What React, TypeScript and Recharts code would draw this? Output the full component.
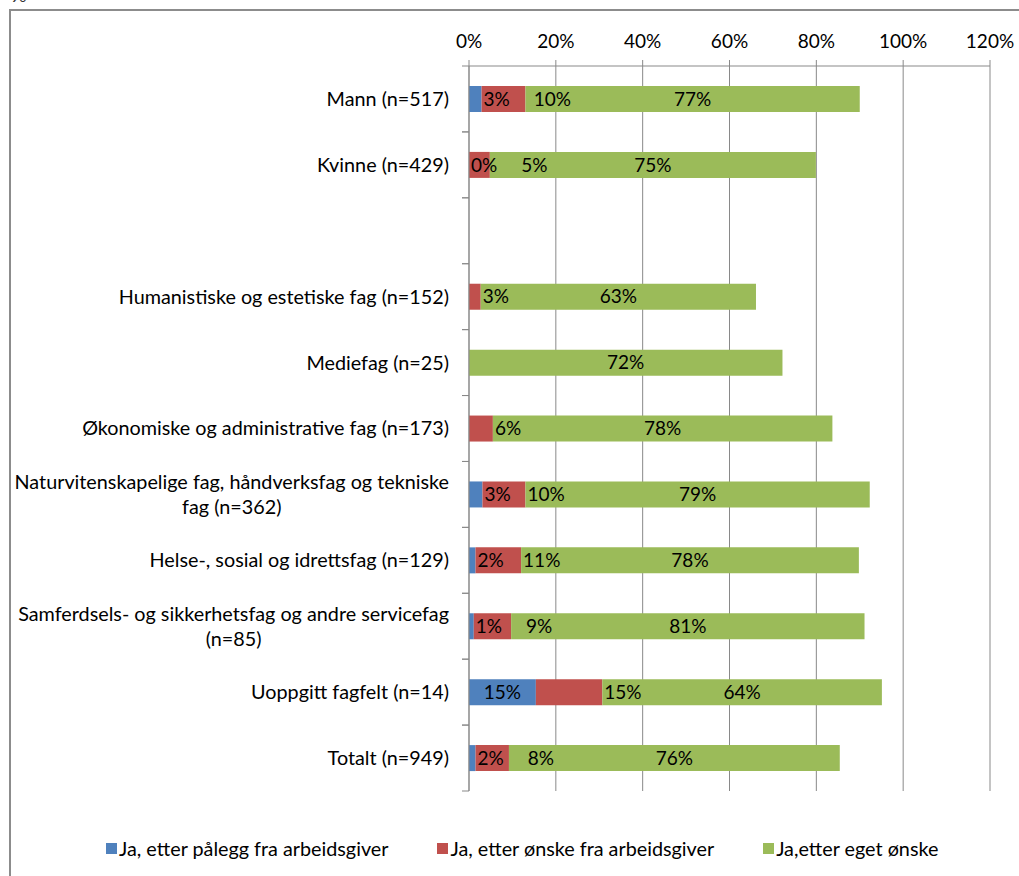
import React from 'react'
import { BarChart, Bar, XAxis, YAxis, CartesianGrid, Legend, LabelList } from 'recharts'

const categories = [
  'Mann (n=517)',
  'Kvinne (n=429)',
  '',
  'Humanistiske og estetiske fag (n=152)',
  'Mediefag (n=25)',
  'Økonomiske og administrative fag (n=173)',
  'Naturvitenskapelige fag, håndverksfag og tekniske fag (n=362)',
  'Helse-, sosial og idrettsfag (n=129)',
  'Samferdsels- og sikkerhetsfag og andre servicefag (n=85)',
  'Uoppgitt fagfelt (n=14)',
  'Totalt (n=949)',
]

// Ja, etter pålegg fra arbeidsgiver
const paalegg = [2.9, 0, null, null, null, null, 3.1, 1.5, 1.1, 15.4, 1.5]
// Ja, etter ønske fra arbeidsgiver
const oenskeArbeidsgiver = [10.1, 4.8, null, 2.7, null, 5.5, 9.9, 10.5, 8.6, 15.3, 7.7]
// Ja,etter eget ønske
const egetOenske = [77.0, 75.1, null, 63.4, 72.2, 78.2, 79.3, 77.8, 81.4, 64.4, 76.2]

const xTicks = [0, 20, 40, 60, 80, 100, 120]

const data = categories.map((name, i) => ({
  name,
  paalegg: paalegg[i],
  oenske: oenskeArbeidsgiver[i],
  eget: egetOenske[i],
}))

const FONT = 'Lato, "Noto Sans", sans-serif'
const FS = 19.8
const FS_NUM = 19
const LINE_H = 25
const GRID = '#898989'

let ctx: CanvasRenderingContext2D | null = null
function measure(t: string, size = FS) {
  if (!ctx) ctx = document.createElement('canvas').getContext('2d')
  if (!ctx) return t.length * size * 0.5
  ctx.font = `${size}px ${FONT}`
  return ctx.measureText(t).width
}

function wrap(text: string, maxW: number) {
  const lines: string[] = []
  let cur = ''
  for (const w of text.split(' ')) {
    const t = cur ? cur + ' ' + w : w
    if (cur && measure(t) > maxW) {
      lines.push(cur)
      cur = w
    } else cur = t
  }
  if (cur) lines.push(cur)
  return lines
}

function CategoryTick(props: any) {
  const { x, y, payload } = props
  const half = payload.offset ?? 33
  const lines = wrap(payload.value || '', 445)
  const maxW = Math.max(0, ...lines.map((l) => measure(l)))
  const cx = x - maxW / 2
  const y0 = y - ((lines.length - 1) * LINE_H) / 2
  return (
    <g>
      <line x1={x + 13} x2={x + 20} y1={y - half} y2={y - half} stroke={GRID} />
      <line x1={x + 13} x2={x + 20} y1={y + half} y2={y + half} stroke={GRID} />
      {lines.map((l, i) => (
        <text
          key={i}
          x={cx}
          y={y0 + i * LINE_H}
          dy="0.35em"
          textAnchor="middle"
          fontSize={FS}
          fontFamily={FONT}
          fill="#000"
        >
          {l}
        </text>
      ))}
    </g>
  )
}

const pct = (v: number) => `${Math.round(v)}%`

// small segments push their label past the segment end, like the original
const segLabel = (mode: 'fit' | 'after' | 'center') => (props: any) => {
  const { x, y, width, height, value, index } = props
  if (value == null) return null
  const text = pct(Number(value))
  const tw = measure(text, FS_NUM)
  let tx = x + width / 2
  let anchor: 'middle' | 'start' = 'middle'
  if (mode === 'fit' && width < tw + 4) {
    tx = x + width + 2
    anchor = 'start'
  }
  if (mode === 'after') {
    tx = x + width + 2
    anchor = 'start'
    // keep clear of the label of the segment before it
    const prev = typeof index === 'number' ? paalegg[index] : null
    if (prev != null) {
      const pw = measure(pct(prev), FS_NUM)
      const prevWidth = (x - props.viewBox?.x) || 0
      const prevEnd = prevWidth < pw + 4 ? x + 2 + pw : x - prevWidth / 2 + pw / 2
      tx = Math.max(tx, prevEnd + 24)
    }
  }
  return (
    <text
      x={tx}
      y={y + height / 2}
      dy="0.35em"
      textAnchor={anchor}
      fontSize={FS_NUM}
      fontFamily={FONT}
      fill="#000"
    >
      {text}
    </text>
  )
}

function LegendContent(props: any) {
  const { payload } = props
  return (
    <div style={{ display: 'flex', gap: 49, fontFamily: FONT, fontSize: FS, color: '#000' }}>
      {(payload || []).map((p: any) => (
        <span key={p.value} style={{ display: 'flex', alignItems: 'center', whiteSpace: 'nowrap' }}>
          <span style={{ width: 11, height: 11, background: p.color, marginRight: 2, display: 'inline-block' }} />
          {p.value}
        </span>
      ))}
    </div>
  )
}

export default function App() {
  return (
    <div style={{ position: 'absolute', left: 0, top: 0, width: 1019, height: 876, background: '#fff', overflow: 'hidden' }}>
      <div
        style={{
          position: 'absolute',
          left: 11,
          top: -16,
          fontFamily: FONT,
          fontSize: FS,
          lineHeight: '20px',
          color: '#333',
        }}
      >
        %
      </div>
      <div
        style={{
          position: 'absolute',
          left: 9,
          top: 9,
          width: 1100,
          height: 1000,
          borderLeft: '2px solid #8c8c8c',
          borderTop: '2px solid #8c8c8c',
        }}
      />
      <BarChart
        layout="vertical"
        width={1019}
        height={876}
        data={data}
        margin={{ top: 0, right: 29, bottom: 85, left: 0 }}
        barSize={26}
        style={{ position: 'absolute', left: 0, top: 0 }}
      >
        <CartesianGrid horizontal={false} stroke={GRID} />
        <XAxis
          type="number"
          orientation="top"
          domain={[0, 120]}
          ticks={xTicks}
          tickFormatter={(v) => `${v}%`}
          height={66}
          tickSize={6}
          tickMargin={12}
          axisLine={{ stroke: GRID }}
          tickLine={{ stroke: GRID }}
          tick={{ fontSize: FS_NUM, fontFamily: FONT, fill: '#000' }}
          interval={0}
        />
        <YAxis
          type="category"
          dataKey="name"
          width={469}
          tickSize={0}
          tickMargin={20}
          tickLine={false}
          axisLine={{ stroke: GRID }}
          tick={<CategoryTick />}
          interval={0}
        />
        <Legend
          layout="horizontal"
          verticalAlign="middle"
          align="center"
          wrapperStyle={{ left: 106, top: 836, width: 'auto', height: 'auto' }}
          content={<LegendContent />}
        />
        <Bar
          dataKey="paalegg"
          name="Ja, etter pålegg fra arbeidsgiver"
          stackId="a"
          fill="#4F81BD"
          minPointSize={0.01}
          isAnimationActive={false}
        >
          <LabelList dataKey="paalegg" content={segLabel('fit')} />
        </Bar>
        <Bar dataKey="oenske" name="Ja, etter ønske fra arbeidsgiver" stackId="a" fill="#C0504D" isAnimationActive={false}>
          <LabelList dataKey="oenske" content={segLabel('after')} />
        </Bar>
        <Bar dataKey="eget" name="Ja,etter eget ønske" stackId="a" fill="#9BBB59" isAnimationActive={false}>
          <LabelList dataKey="eget" content={segLabel('center')} />
        </Bar>
      </BarChart>
    </div>
  )
}
